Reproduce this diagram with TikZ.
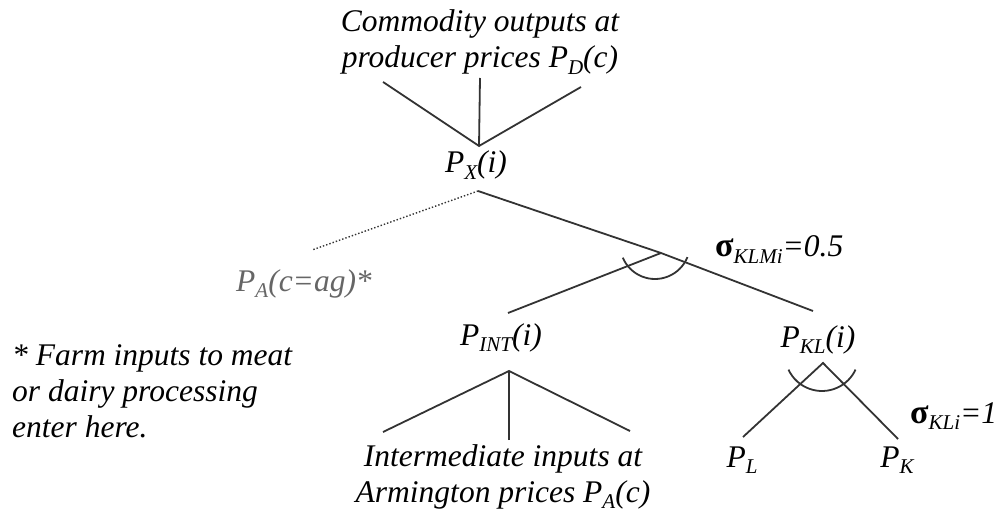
\documentclass[tikz,border=0pt]{standalone}
\usepackage{fontspec}
\setmainfont{Liberation Serif}
\newcommand\sbs[1]{\raisebox{-0.22em}{\fontsize{21}{21}\selectfont #1}}
\newcommand\sgm{{\fontsize{34}{34}\selectfont\bfseries\upshape σ}}
\begin{document}
\begin{tikzpicture}[x=1pt,y=1pt,
  lbl/.style={inner sep=0pt, font=\fontsize{31.5}{36}\selectfont\itshape, text=black},
  ln/.style={line width=1.8pt, draw=black!80},
  dotln/.style={line width=1.4pt, draw=black!80, dotted},
  elas/.style={line width=1.8pt, draw=black!80}]
\useasboundingbox (0,0) rectangle (999,-513);
% text nodes (base = baseline of last line)
\node[lbl, align=center, anchor=base] (top) at (480,-68) {Commodity outputs at\\producer prices P\sbs{D}(c)};
\node[lbl, anchor=base] (px) at (476,-173) {P\sbs{X}(i)};
\node[lbl, anchor=base west, text=black!60] (pa) at (236,-291) {P\sbs{A}(c=ag)*};
\node[lbl, anchor=base] (pint) at (501,-345) {P\sbs{INT}(i)};
\node[lbl, anchor=base] (pkl) at (818,-347) {P\sbs{KL}(i)};
\node[lbl, anchor=base] (pl) at (742,-467) {P\sbs{L}};
\node[lbl, anchor=base] (pk) at (897,-467) {P\sbs{K}};
\node[lbl, anchor=base west] (sklm) at (715,-257) {\sgm\sbs{KLMi}=0.5};
\node[lbl, anchor=base west] (skl) at (910,-423) {\sgm\sbs{KLi}=1};
\node[lbl, align=left, anchor=base west] (note) at (12,-437) {* Farm inputs to meat\\or dairy processing\\enter here.};
\node[lbl, align=center, anchor=base] (bot) at (503,-502) {Intermediate inputs at\\Armington prices P\sbs{A}(c)};
% junction points
\coordinate (jx) at (479,-146);
\coordinate (t1) at (383,-82);
\coordinate (t2) at (480,-78);
\coordinate (t3) at (581,-87);
\coordinate (jb) at (478,-191);
\coordinate (dA) at (312,-250);
\coordinate (jklm) at (661,-253);
\coordinate (eint) at (508,-313);
\coordinate (ekl) at (813,-311);
\coordinate (jkl) at (823,-363);
\coordinate (el) at (743,-437);
\coordinate (ek) at (898,-439);
\coordinate (ji) at (509,-371);
\coordinate (b1) at (383,-432);
\coordinate (b2) at (509,-440);
\coordinate (b3) at (630,-431);
% connectors
\draw[ln] (t1) -- (jx) -- (t3);
\draw[ln] (t2) -- (jx);
\draw[dotln] (jb) -- (dA);
\draw[ln] (jb) -- (jklm) -- (ekl);
\draw[ln] (jklm) -- (eint);
\draw[ln] (el) -- (jkl) -- (ek);
\draw[ln] (b1) -- (ji) -- (b3);
\draw[ln] (b2) -- (ji);
% elasticity arcs
\draw[elas] (655,-244) ++(203:35) arc[start angle=203, end angle=338, radius=35];
\draw[elas] (822,-354) ++(205:37) arc[start angle=205, end angle=335, radius=37];
\end{tikzpicture}
\end{document}
